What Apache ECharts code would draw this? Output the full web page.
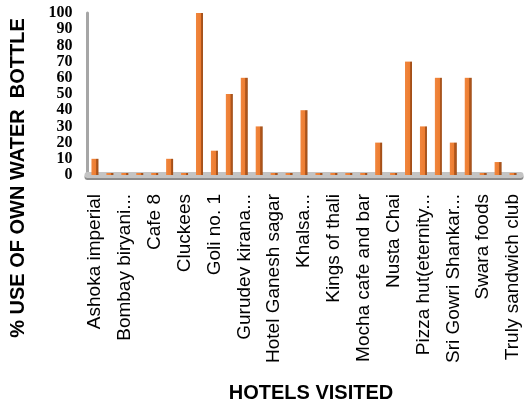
<!DOCTYPE html>
<html>
<head>
<meta charset="utf-8">
<script src="https://cdn.jsdelivr.net/npm/echarts@6/dist/echarts.min.js"></script>
<style>html,body{margin:0;padding:0;background:#fff}#c{width:527px;height:402px}</style>
</head>
<body>
<div id="c"></div>
<script>
// Categories: every other one is labelled in the reference; unlabelled ones get placeholder names.
const categories = [
  "Ashoka imperial", "(unlabelled 1)", "Bombay biryani...", "(unlabelled 3)", "Cafe 8",
  "(unlabelled 5)", "Cluckees", "(unlabelled 7)", "Goli no. 1", "(unlabelled 9)",
  "Gurudev kirana...", "(unlabelled 11)", "Hotel Ganesh sagar", "(unlabelled 13)", "Khalsa...",
  "(unlabelled 15)", "Kings of thali", "(unlabelled 17)", "Mocha cafe and bar", "(unlabelled 19)",
  "Nusta Chai", "(unlabelled 21)", "Pizza hut(eternity...", "(unlabelled 23)", "Sri Gowri Shankar...",
  "(unlabelled 25)", "Swara foods", "(unlabelled 27)", "Truly sandwich club"
];
const values = [10, 0, 0, 0, 0, 10, 0, 100, 15, 50, 60, 30, 0, 0, 40, 0, 0, 0, 0, 20, 0, 70, 30, 60, 20, 60, 0, 8, 0];
const yTicks = [0, 10, 20, 30, 40, 50, 60, 70, 80, 90, 100];
const yTitle = "% USE OF OWN WATER  BOTTLE";
const xTitle = "HOTELS VISITED";

const chart = echarts.init(document.getElementById('c'), null, {renderer: 'canvas'});
chart.setOption({
  animation: false,
  grid: {left: 87.5, right: 6.5, top: 13, bottom: 227, containLabel: false},
  xAxis: {
    type: 'category',
    data: categories,
    boundaryGap: true,
    axisLine: {show: true, lineStyle: {color: '#C4C4C4', width: 6, shadowColor: '#8C8C8C', shadowOffsetY: 2, shadowBlur: 0}},
    axisTick: {show: false},
    axisLabel: {
      interval: 1, rotate: 90, margin: 19, color: '#000',
      fontFamily: 'Liberation Sans, Arial, sans-serif', fontSize: 19
    },
    z: 1
  },
  yAxis: {
    type: 'value',
    min: yTicks[0], max: yTicks[yTicks.length - 1], interval: 10,
    axisLine: {show: true, lineStyle: {color: '#A6A6A6', width: 3}},
    axisTick: {show: false},
    splitLine: {show: false},
    axisLabel: {
      margin: 15, color: '#000', fontWeight: 'bold', showMinLabel: true, showMaxLabel: true, hideOverlap: false,
      fontFamily: 'Liberation Serif, Times New Roman, serif', fontSize: 16
    }
  },
  series: [{
    type: 'bar',
    data: values,
    barWidth: 7,
    barMinHeight: 2,
    z: 3,
    itemStyle: {
      color: new echarts.graphic.LinearGradient(0, 0, 1, 0, [
        {offset: 0, color: '#F0863E'},
        {offset: 0.66, color: '#ED7D31'},
        {offset: 0.67, color: '#B65A1E'},
        {offset: 1, color: '#9E4C16'}
      ])
    }
  }],
  graphic: [
    {type: 'text', x: 18, y: 178, rotation: Math.PI / 2,
     style: {text: yTitle, fill: '#000', font: 'bold 20px "Liberation Sans", Arial, sans-serif', textAlign: 'center', textVerticalAlign: 'middle'}},
    {type: 'text', x: 311, y: 393,
     style: {text: xTitle, fill: '#000', font: 'bold 20px "Liberation Sans", Arial, sans-serif', textAlign: 'center', textVerticalAlign: 'middle'}}
  ]
});
</script>
</body>
</html>
